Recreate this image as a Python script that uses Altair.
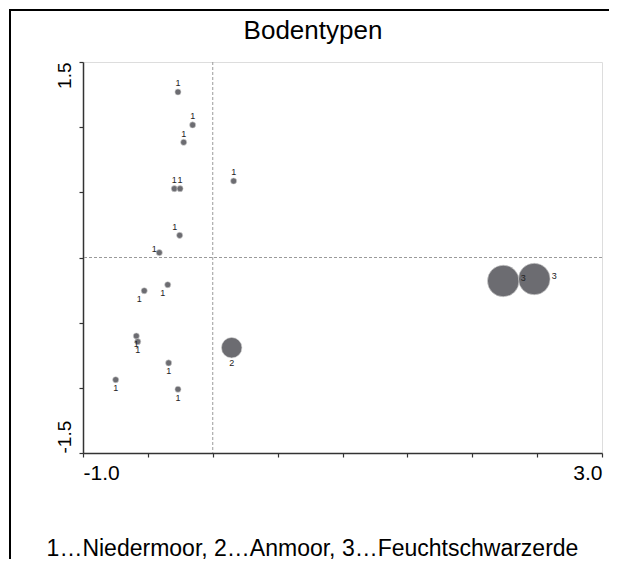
import altair as alt
import pandas as pd

# ---- data ----
soil_type = [1, 1, 1, 1, 1, 1, 1, 1, 1, 1, 1, 1, 1, 1, 1, 2, 3, 3]
x_vals = [-0.268, -0.155, -0.224, -0.296, -0.252, 0.161, -0.255, -0.412, -0.528,
          -0.347, -0.589, -0.578, -0.340, -0.748, -0.268, 0.146, 2.239, 2.478]
y_vals = [1.270, 1.017, 0.884, 0.528, 0.528, 0.587, 0.170, 0.037, -0.255,
          -0.209, -0.602, -0.646, -0.809, -0.938, -1.011, -0.692, -0.180, -0.165]
label_pos = ["top", "top", "top", "top", "top", "top", "topleft", "left",
             "bottomleft", "bottomleft", "bottom", "bottom", "bottom", "bottom",
             "bottom", "bottom_big", "right_big", "right_big"]

x_ticks = [-1.0, -0.5, 0.0, 0.5, 1.0, 1.5, 2.0, 2.5, 3.0]
y_ticks = [-1.5, -1.0, -0.5, 0.0, 0.5, 1.0, 1.5]

title_text = "Bodentypen"
footer_text = "1…Niedermoor, 2…Anmoor, 3…Feuchtschwarzerde"

df = pd.DataFrame({"x": x_vals, "y": y_vals, "typ": soil_type, "pos": label_pos})

FONT = "Liberation Sans"

offsets = {
    "top": (0, -8.5),
    "topleft": (-5, -8.5),
    "left": (-5, -4),
    "bottomleft": (-5, 8.5),
    "bottom": (0, 8.5),
    "bottom_big": (0, 15.5),
    "right_big": (20, -3),
}

xscale = alt.Scale(domain=[-1, 3], nice=False, zero=False)
yscale = alt.Scale(domain=[-1.5, 1.5], nice=False, zero=False)

x_enc = alt.X(
    "x:Q", scale=xscale,
    axis=alt.Axis(
        values=x_ticks, grid=False, tickSize=4, tickColor="#333", tickWidth=1.2,
        domainColor="#333", domainWidth=1.5,
        labelExpr="datum.value == -1 ? '-1.0' : (datum.value == 3 ? '3.0' : '')",
        labelFlush=True, labelFont=FONT, labelFontSize=21, labelColor="black",
        labelPadding=5,
        title=footer_text, titleFont=FONT, titleFontSize=23, titleFontWeight="normal",
        titleColor="black", titleX=229, titleY=102, titleAlign="center",
        titleBaseline="alphabetic", titleAnchor="middle",
    ),
)
y_enc = alt.Y(
    "y:Q", scale=yscale,
    axis=alt.Axis(
        values=y_ticks, grid=False, tickSize=4, tickColor="#333", tickWidth=1.2,
        domainColor="#333", domainWidth=1.5,
        labelExpr="datum.value == 1.5 ? '1.5' : (datum.value == -1.5 ? '-1.5' : '')",
        labelAngle=270,
        labelAlign={"condition": {"test": "datum.value < 0", "value": "left"}, "value": "right"},
        labelBaseline="middle",
        labelFont=FONT, labelFontSize=19, labelColor="black", labelPadding=15,
        title=None,
    ),
)

base = alt.Chart(df)

vline = alt.Chart(pd.DataFrame({"x": [0.0]})).mark_rule(
    color="#9a9a9a", strokeWidth=1, strokeDash=[3, 2]
).encode(x=alt.X("x:Q", scale=xscale))
hline = alt.Chart(pd.DataFrame({"y": [0.0]})).mark_rule(
    color="#9a9a9a", strokeWidth=1, strokeDash=[3, 2]
).encode(y=alt.Y("y:Q", scale=yscale))

points = base.mark_circle(
    color="#6c6c71", opacity=1, stroke="#d5d5d5", strokeWidth=0.6
).encode(
    x=x_enc, y=y_enc,
    size=alt.Size("typ:Q", scale=alt.Scale(domain=[1, 2, 3], range=[38, 420, 1000]),
                  legend=None),
)

labels = []
for pos, (dx, dy) in offsets.items():
    labels.append(
        base.transform_filter(alt.datum.pos == pos).mark_text(
            dx=dx, dy=dy, fontSize=9, font=FONT, color="#222",
            align="center", baseline="middle"
        ).encode(x=alt.X("x:Q", scale=xscale), y=alt.Y("y:Q", scale=yscale),
                 text="typ:N")
    )

title = alt.Chart(pd.DataFrame({"t": [title_text]})).mark_text(
    font=FONT, fontSize=26, color="black", align="center", baseline="alphabetic"
).encode(x=alt.value(230), y=alt.value(-23), text="t:N")

frame = alt.Chart(pd.DataFrame({"a": [0]})).mark_rect(
    fill=None, stroke="black", strokeWidth=2
).encode(
    x=alt.value(-73), x2=alt.value(600), y=alt.value(-52), y2=alt.value(560)
)

chart = alt.layer(vline, hline, points, *labels, title, frame).properties(
    width=519, height=391,
    padding={"left": 75, "top": 54, "right": 7, "bottom": 106},
    autosize="none",
).configure_view(stroke="#333", strokeWidth=1.5).configure(background="white")

chart.save("out.html", embed_options={"renderer": "svg", "actions": False})
